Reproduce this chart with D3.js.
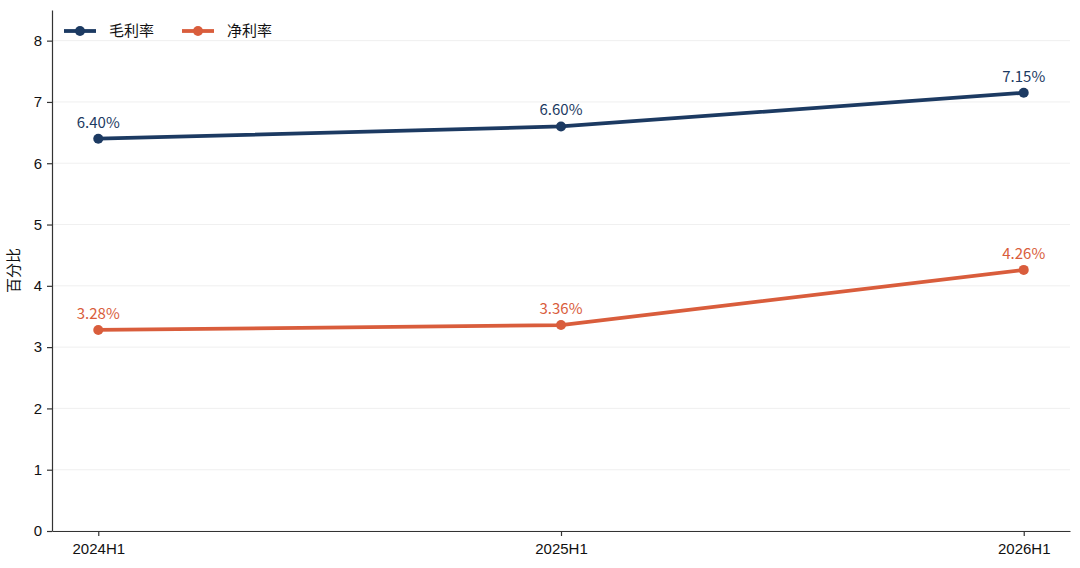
<!DOCTYPE html>
<html>
<head>
<meta charset="utf-8">
<script src="https://cdn.jsdelivr.net/npm/d3@7"></script>
<style>
  body { margin: 0; background: #fff; }
  svg { font-family: "Noto Sans CJK SC", "Noto Sans", sans-serif; }
</style>
</head>
<body>
<svg id="chart" width="1080" height="568"></svg>
<script>
const periods = ["2024H1", "2025H1", "2026H1"]
const grossMargin = [6.40, 6.60, 7.15]
const netMargin = [3.28, 3.36, 4.26]
const yTicks = [0, 1, 2, 3, 4, 5, 6, 7, 8]
const seriesNames = ["毛利率", "净利率"]
const seriesColors = ["#1c3a62", "#d95d3c"]

const svg = d3.select("#chart")
const margin = {top: 10, right: 10, bottom: 37, left: 52}
const width = 1080 - margin.left - margin.right
const height = 568 - margin.top - margin.bottom

const g = svg.append("g").attr("transform", `translate(${margin.left},${margin.top})`)

const x = d3.scalePoint().domain(periods).range([0, width]).padding(0.1)
const y = d3.scaleLinear().domain([0, 8.5]).range([height, 0])

// grid
g.append("g").selectAll("line").data(yTicks).join("line")
  .attr("x1", 0).attr("x2", width)
  .attr("y1", d => y(d)).attr("y2", d => y(d))
  .attr("stroke", "#ebebeb").attr("stroke-width", 0.8)

const yAxis = g.append("g").call(d3.axisLeft(y).tickValues(yTicks).tickSize(5).tickSizeOuter(0).tickPadding(5))
const xAxis = g.append("g").attr("transform", `translate(0,${height})`)
  .call(d3.axisBottom(x).tickSize(5).tickSizeOuter(0).tickPadding(5))
;[yAxis, xAxis].forEach(a => {
  a.selectAll("path, line").attr("stroke", "#333").attr("stroke-width", 1.2)
  a.selectAll("text").attr("fill", "#111").style("font-size", "15px")
})
xAxis.selectAll("text").attr("dy", "0.85em")

g.append("text")
  .attr("transform", `translate(-33,${height / 2}) rotate(-90)`)
  .attr("text-anchor", "middle")
  .style("font-size", "15px").attr("fill", "#111")
  .text("百分比")

const series = [grossMargin, netMargin]
const line = d3.line().x((d, i) => x(periods[i])).y(d => y(d))

series.forEach((vals, s) => {
  const color = seriesColors[s]
  g.append("path").datum(vals)
    .attr("d", line).attr("fill", "none")
    .attr("stroke", color).attr("stroke-width", 3.8)
    .attr("stroke-linejoin", "round")
  g.selectAll(null).data(vals).join("circle")
    .attr("cx", (d, i) => x(periods[i])).attr("cy", d => y(d))
    .attr("r", 5).attr("fill", color)
  g.selectAll(null).data(vals).join("text")
    .attr("x", (d, i) => x(periods[i])).attr("y", d => y(d) - 11)
    .attr("text-anchor", "middle").attr("fill", color)
    .style("font-size", "15px")
    .text(d => d.toFixed(2) + "%")
})

// legend
const legend = g.append("g").attr("transform", "translate(12,21)")
seriesNames.forEach((name, i) => {
  const lg = legend.append("g").attr("transform", `translate(${i * 118},0)`)
  lg.append("line").attr("x1", 0).attr("x2", 32).attr("y1", 0).attr("y2", 0)
    .attr("stroke", seriesColors[i]).attr("stroke-width", 3.8)
  lg.append("circle").attr("cx", 16).attr("cy", 0).attr("r", 5).attr("fill", seriesColors[i])
  lg.append("text").attr("x", 45).attr("y", 0).attr("dy", "0.35em")
    .style("font-size", "15px").attr("fill", "#111").text(name)
})
</script>
</body>
</html>
